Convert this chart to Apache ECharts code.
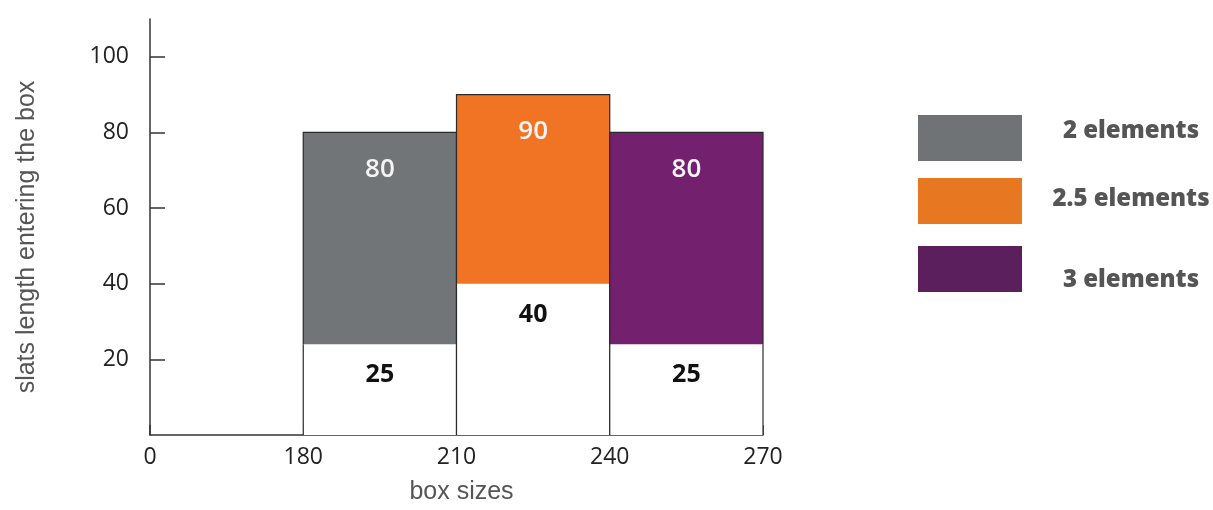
<!DOCTYPE html>
<html>
<head>
<meta charset="utf-8">
<script src="https://cdn.jsdelivr.net/npm/echarts@6/dist/echarts.min.js"></script>
<style>html,body{margin:0;padding:0;background:#fff}#c{width:1213px;height:510px}</style>
</head>
<body>
<div id="c"></div>
<script>
const xTickLabels = ['0', '180', '210', '240', '270'];
const yTickValues = [20, 40, 60, 80, 100];
const seriesNames = ['2 elements', '2.5 elements', '3 elements'];
const barStartTick = [1, 2, 3];
const upperValues = [80, 90, 80];
const lowerValues = [24, 40, 24];
const upperLabels = ['80', '90', '80'];
const lowerLabels = ['25', '40', '25'];

const barColors = ['#717577', '#F07424', '#73206F'];
const legendColors = ['#707376', '#E87722', '#5C1F5E'];
const legendTextY = [131, 199, 280];

const chart = echarts.init(document.getElementById('c'));
const data = barStartTick.map((s, k) => [s, lowerValues[k], upperValues[k]]);

const legendGraphics = [];
seriesNames.forEach((n, k) => {
  legendGraphics.push({
    type: 'rect', left: 918, top: [115, 178, 246][k],
    shape: { width: 104, height: 46 }, style: { fill: legendColors[k] }
  });
  legendGraphics.push({
    type: 'text', x: 1131, y: legendTextY[k],
    style: { text: n, fill: '#555555', font: '800 24px "Open Sans"', align: 'center', verticalAlign: 'middle' }
  });
});

chart.setOption({
  animation: false,
  grid: { left: 150, right: 450, top: 19, bottom: 69 },
  xAxis: {
    type: 'value', min: 0, max: 4, interval: 1,
    name: 'box sizes', nameLocation: 'middle', nameGap: 45,
    nameTextStyle: { color: '#555', fontSize: 25, fontFamily: 'Liberation Sans', padding: [0, 0, 0, 10] },
    axisLine: { show: true, lineStyle: { color: '#333', width: 1.5 } },
    axisTick: { show: true, inside: true, length: 10, lineStyle: { color: '#333', width: 1.5 } },
    axisLabel: { margin: 11, color: '#222', fontSize: 23, fontFamily: 'Open Sans', formatter: v => xTickLabels[v] },
    splitLine: { show: false }
  },
  yAxis: {
    type: 'value', min: 0, max: 110,
    name: 'slats length entering the box', nameLocation: 'middle', nameGap: 110,
    nameTextStyle: { color: '#555', fontSize: 25, fontFamily: 'Liberation Sans', padding: [0, 20, 0, 0] },
    axisLine: { show: true, lineStyle: { color: '#333', width: 1.5 } },
    axisTick: { show: true, inside: true, length: 15, customValues: yTickValues, lineStyle: { color: '#333', width: 1.5 } },
    axisLabel: { margin: 21, color: '#222', fontSize: 23, fontFamily: 'Open Sans', customValues: yTickValues },
    splitLine: { show: false }
  },
  graphic: legendGraphics,
  series: [{
    type: 'custom',
    data: data,
    renderItem: function (params, api) {
      const k = params.dataIndex;
      const i = api.value(0), lo = api.value(1), hi = api.value(2);
      const p0 = api.coord([i, 0]), q0 = api.coord([i + 1, 0]);
      const x0 = p0[0], x1 = q0[0], y0 = p0[1];
      const yLo = api.coord([i, lo])[1], yHi = api.coord([i, hi])[1];
      const xc = (x0 + x1) / 2;
      const stroke = { stroke: '#2a2a2a', lineWidth: 1.2, fill: null };
      return {
        type: 'group',
        children: [
          { type: 'rect', shape: { x: x0, y: yLo, width: x1 - x0, height: y0 - yLo }, style: { fill: '#ffffff' } },
          { type: 'polyline', shape: { points: [[x0, y0], [x0, yLo]] }, style: stroke },
          { type: 'polyline', shape: { points: [[x1, y0], [x1, yLo]] }, style: stroke },
          { type: 'rect', shape: { x: x0, y: yHi, width: x1 - x0, height: yLo - yHi }, style: { fill: barColors[k] } },
          { type: 'polyline', shape: { points: [[x0, yLo], [x0, yHi], [x1, yHi], [x1, yLo]] }, style: stroke },
          { type: 'text', x: xc, y: yHi + 37, style: { text: upperLabels[k], fill: '#f4f4f4', font: '600 26px "Open Sans"', align: 'center', verticalAlign: 'middle' } },
          { type: 'text', x: xc, y: yLo + 31, style: { text: lowerLabels[k], fill: '#111', font: 'bold 25px "Open Sans"', align: 'center', verticalAlign: 'middle' } }
        ]
      };
    }
  }]
});
</script>
</body>
</html>
